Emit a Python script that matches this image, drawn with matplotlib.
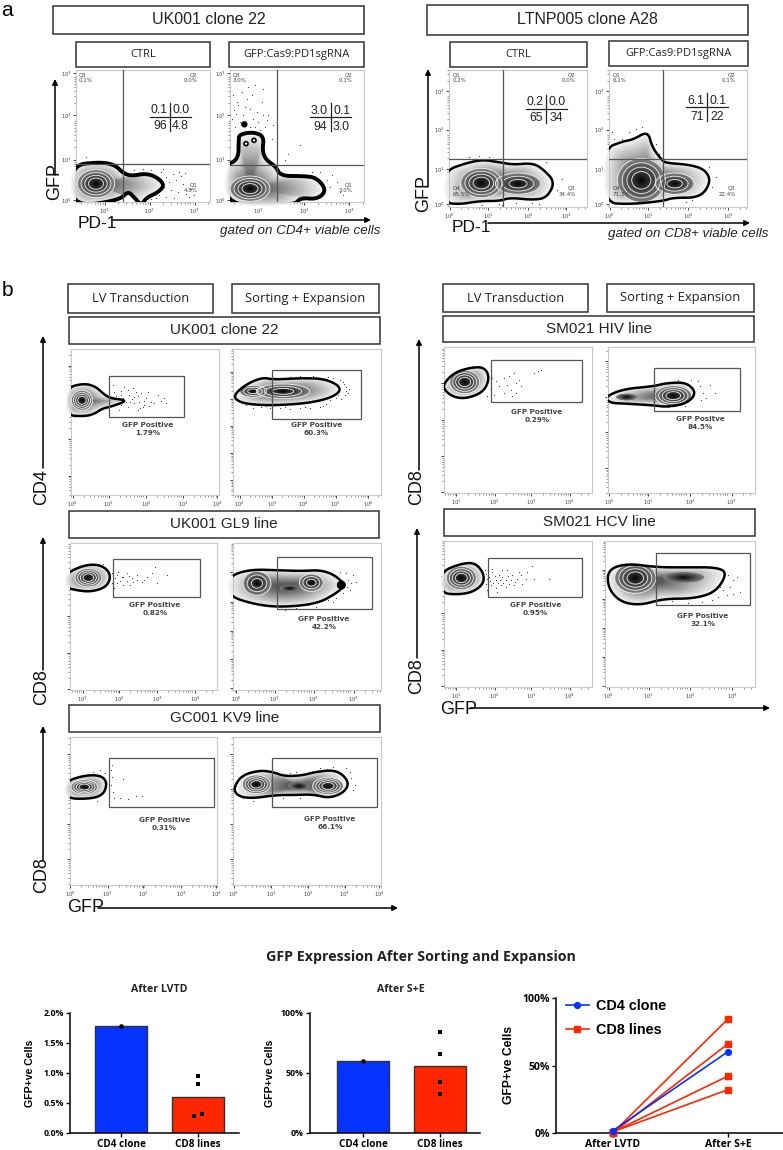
import numpy as np
import matplotlib
matplotlib.use('Agg')
from matplotlib import pyplot as plt
from matplotlib.patches import Rectangle, Polygon, Ellipse, FancyArrowPatch

# fig size is 783x1150 px, layout numbers below are reference pixels
W, H = 783, 1150
SANS = 'Liberation Sans'
SOFT = 'Open Sans'

# --- flow plots, values are display channels (3 channels = 1 px), origin bottom left
a1_outline = [(-15,110),(70,120),(116,112),(141,87),(166,78),(211,86),(245,73),(266,50),(245,28),(211,13),(196,-10),(176,12),(156,33),(131,5),(-15,-15)]
a1_cores = [(60,55,56,42,4)]
a1_dots = [(255,90),(270,75),(290,85),(310,90),(280,60),(300,65),(320,55),(265,45),(285,35),(305,30),(330,25),(250,20),(270,15),(295,12),(340,15),(225,95),(200,100),(175,95),(150,115),(30,135),(250,70),(262,100),(240,12),(225,10),(345,40),(355,22),(315,78),(328,88)]

a2_outline = [(-15,110),(25,127),(26,185),(28,203),(70,210),(102,197),(97,155),(107,127),(137,107),(152,78),(220,78),(260,73),(290,35),(262,8),(210,13),(195,-10),(-15,-15)]
a2_cores = [(60,40,60,38,4)]
a2_dots = [(10,320),(25,290),(40,260),(50,310),(60,280),(70,250),(85,240),(95,300),(30,240),(15,225),(75,225),(105,225),(115,260),(20,300),(35,210),(90,215),(55,345),(75,350),(5,250),(125,190),(165,125),(175,145),(210,170),(130,230),(65,320),(100,340),(300,45),(320,60),(330,30),(340,20),(290,65),(305,80),(245,90),(270,90),(18,265),(45,285),(82,270),(98,262),(12,275),(110,245),(60,225),(35,330)]
a2_spots = [(43,233,7),(48,175,6),(72,185,6)]
a2_holes = [(48,175,6),(72,185,6)]

a3_outline = [(-15,108),(52,132),(102,142),(152,134),(192,127),(252,132),(284,112),(318,75),(294,28),(252,21),(182,28),(152,18),(92,18),(32,8),(-15,13)]
a3_cores = [(97,72,62,44,4),(207,70,68,32,3)]
a3_dots = [(60,150),(90,152),(120,150),(40,143),(250,12),(270,10),(200,12),(160,6),(340,85),(325,50),(290,135),(150,8),(100,6)]

a4_outline = [(-15,175),(42,197),(72,202),(117,228),(129,180),(159,140),(172,132),(242,127),(289,112),(306,75),(274,28),(192,28),(162,18),(62,8),(-15,13)]
a4_cores = [(97,80,72,66,4),(197,70,58,32,3)]
a4_dots = [(60,225),(80,235),(40,205),(15,205),(100,240),(140,190),(150,160),(230,15),(250,20),(310,60),(320,90),(10,225),(300,120)]

b1_outline = [(-15,321),(38,335),(73,326),(98,303),(118,290),(172,284),(123,266),(93,259),(68,242),(38,236),(-15,239)]
b1_cores = [(33,284,32,30,4)]
b1_dots = [(130,310),(150,300),(170,315),(190,295),(210,305),(225,290),(240,280),(260,300),(280,290),(150,270),(170,265),(190,275),(205,280),(220,270),(200,255),(175,300),(160,325),(185,320),(215,265),(250,275),(270,283),(285,275),(140,285),(178,280),(195,310),(230,310),(145,255),(125,330),(135,298),(155,290),(182,288),(200,298),(218,282),(235,268),(128,275),(165,278),(150,312),(208,262)]

b2_outline = [(0,298),(40,333),(90,353),(120,346),(210,351),(280,348),(328,321),(302,294),(230,276),(130,269),(60,271),(18,279)]
b2_cores = [(60,311,40,18,3),(150,311,80,22,3)]
b2_dots = [(330,340),(340,325),(345,305),(335,300),(320,345),(300,352),(315,300),(280,272),(260,265),(230,262),(200,260),(170,258),(140,262),(110,262),(85,265),(60,260),(40,270),(200,358),(170,355),(130,352),(250,355),(290,285),(325,288),(338,312),(348,318),(332,332),(310,290),(270,268),(215,265),(155,264),(100,268),(240,356),(285,354)]

b3_outline = [(-15,348),(40,374),(85,377),(114,360),(122,335),(107,308),(65,295),(25,298),(-15,308)]
b3_cores = [(55,337,40,28,4)]
b3_dots = [(125,350),(140,345),(155,340),(170,350),(185,335),(200,330),(215,325),(230,340),(125,320),(140,320),(160,315),(180,315),(200,345),(222,330),(255,370),(245,350),(135,335),(150,328),(170,328),(190,325),(290,345),(260,322),(100,378),(130,360),(145,355),(132,305),(160,338),(178,342)]

b4_outline = [(-15,340),(50,362),(140,359),(210,357),(260,360),(302,347),(338,315),(307,288),(250,258),(140,248),(60,258),(-15,283)]
b4_cores = [(72,320,42,36,3),(235,322,36,26,3),(170,305,30,10,0)]
b4_dots = [(345,330),(360,345),(350,300),(330,290),(310,275),(300,265),(285,270),(340,350),(370,325),(155,240),(190,245),(250,248),(320,355),(355,320),(342,310)]
b4_spots = [(325,315,11)]

b5_outline = [(-15,310),(43,329),(93,329),(112,307),(100,270),(58,258),(-15,260)]
b5_cores = [(43,294,40,22,4)]
b5_dots = [(125,360),(123,345),(125,325),(158,318),(122,300),(130,280),(132,262),(150,262),(175,258),(198,268),(215,268),(90,345),(105,335),(70,340),(80,252)]

b6_outline = [(0,287),(25,329),(80,344),(120,339),(155,326),(210,329),(245,339),(310,346),(348,312),(337,280),(290,260),(240,272),(185,270),(130,270),(60,260),(18,265)]
b6_cores = [(70,302,42,28,4),(285,297,46,26,4),(198,297,32,12,0)]
b6_dots = [(355,320),(365,300),(350,340),(340,350),(170,335),(190,340),(260,350),(300,355),(30,262),(60,252),(150,262),(200,262),(95,345),(360,285)]

c1_outline = [(0,330),(32,362),(82,377),(122,377),(137,345),(119,303),(67,283),(27,288),(0,310)]
c1_cores = [(62,333,45,35,4)]
c1_dots = [(145,345),(155,335),(180,345),(195,350),(210,360),(225,340),(190,325),(200,310),(215,300),(180,300),(165,320),(140,315),(150,295),(215,330),(230,320),(270,360),(282,365),(290,368),(130,290),(205,290)]

c2_outline = [(-10,288),(46,312),(136,320),(176,330),(236,332),(266,300),(236,268),(176,258),(136,263),(56,268),(6,270)]
c2_cores = [(196,292,55,30,4),(56,288,32,10,0)]
c2_dots = [(275,320),(285,300),(295,285),(305,325),(320,300),(280,280),(270,335),(250,340),(210,338),(180,258),(230,262)]

c3_outline = [(-10,345),(47,369),(92,374),(119,342),(119,310),(87,285),(42,277),(-10,282)]
c3_cores = [(52,327,45,35,4)]
c3_dots = [(125,340),(135,330),(145,345),(155,320),(165,335),(175,350),(185,320),(195,310),(205,335),(220,325),(235,310),(250,345),(265,362),(125,310),(140,305),(155,298),(170,305),(185,300),(210,305),(230,335),(245,325),(270,325),(315,325),(130,290),(160,285),(190,352),(175,330),(200,322),(148,312),(128,325),(138,318),(152,332),(162,312),(178,312),(192,332),(212,315),(133,298),(143,355),(122,350),(168,322),(225,345)]

c4_outline = [(8,352),(66,371),(156,359),(246,359),(336,359),(367,342),(333,285),(266,265),(176,265),(106,245),(46,255),(9,297)]
c4_cores = [(91,327,62,46,4),(236,329,62,16,0)]
c4_dots = [(370,335),(385,320),(395,330),(345,300),(355,290),(365,275),(385,280),(405,285),(340,270),(320,262),(290,255),(250,252),(200,258),(375,300)]

# name, px box, x major ticks, first x exponent, y major ticks, first y exponent, gate, quadrant
gfp_pos = 'GFP Positive'
panels = [
    dict(box=(76,70,210,202), outline=a1_outline, center=(60,55), cores=a1_cores, dots=a1_dots, lw=2.8,
         xt=[86,221,356], xe=1, yt=[5,127,260,387], ye=0, quad=(140,113)),
    dict(box=(230,70,364,202), outline=a2_outline, center=(60,40), cores=a2_cores, dots=a2_dots, spots=a2_spots, holes=a2_holes, lw=2.8,
         xt=[85,222,358], xe=1, yt=[5,127,260,387], ye=0, quad=(141,110)),
    dict(box=(449,70,587,207), outline=a3_outline, center=(150,72), cores=a3_cores, dots=a3_dots,
         xt=[2,117,237,352], xe=0, yt=[8,114,232,347], ye=0, quad=(163,144)),
    dict(box=(609,70,747,207), outline=a4_outline, center=(110,85), cores=a4_cores, dots=a4_dots,
         xt=[2,117,237,357], xe=0, yt=[8,114,232,347], ye=0, quad=(163,144)),
    dict(box=(71,349,219,495), outline=b1_outline, center=(33,284), cores=b1_cores, dots=b1_dots,
         xt=[5,113,226,336,438], xe=0, yt=[58,168,278,388], gate=(113,233,339,357), note=(230,197), pct='1.79%'),
    dict(box=(233,349,381,495), outline=b2_outline, center=(150,311), cores=b2_cores, dots=b2_dots,
         xt=[20,118,212,308,405], xe=2, yt=[44,126,206,288,368], gate=(118,229,385,376), note=(250,197), pct='60.3%'),
    dict(box=(70,543,217,690), outline=b3_outline, center=(55,337), cores=b3_cores, dots=b3_dots,
         xt=[38,148,262,375], xe=1, yt=[2,112,222,332], gate=(128,278,391,394), note=(255,243), pct='0.82%'),
    dict(box=(233,543,381,690), outline=b4_outline, center=(160,310), cores=b4_cores, dots=b4_dots, spots=b4_spots,
         xt=[10,125,242,362], xe=0, yt=[5,92,178,265,355], gate=(132,243,416,399), note=(273,202), pct='42.2%'),
    dict(box=(70,737,217,885), outline=b5_outline, center=(43,294), cores=b5_cores, dots=b5_dots,
         xt=[0,113,220,333,438], xe=0, yt=[77,182,287,392], gate=(116,235,431,380), note=(283,182), pct='0.31%'),
    dict(box=(233,737,381,885), outline=b6_outline, center=(198,297), cores=b6_cores, dots=b6_dots,
         xt=[2,115,225,335,438], xe=0, yt=[77,182,287,392], gate=(118,235,433,380), note=(290,187), pct='66.1%'),
    dict(box=(444,347,592,493), outline=c1_outline, center=(62,333), cores=c1_cores, dots=c1_dots,
         xt=[37,152,262,377], xe=1, yt=[2,110,220,330], gate=(141,274,414,398), note=(279,232), pct='0.29%'),
    dict(box=(608,347,755,493), outline=c2_outline, center=(190,292), cores=c2_cores, dots=c2_dots,
         xt=[4,121,246,371], xe=0, yt=[75,182,288,395], gate=(139,246,395,374), note=(276,210), pct='84.5%', label='GFP Positve'),
    dict(box=(444,541,592,687), outline=c3_outline, center=(52,327), cores=c3_cores, dots=c3_dots,
         xt=[37,152,262,377], xe=1, yt=[2,112,222,332], gate=(133,271,414,386), note=(274,235), pct='0.95%'),
    dict(box=(605,541,755,687), outline=c4_outline, center=(130,320), cores=c4_cores, dots=c4_dots,
         xt=[11,131,256,381], xe=0, yt=[2,90,177,264,352], gate=(152,245,435,401), note=(294,200), pct='32.1%'),
]

# corner labels of the quadrant plots: text, x, y, align
a1_quad = [('Q3\n0.1%',8,373,'left'),('Q2\n0.0%',366,373,'right'),('Q1\n4.8%',366,43,'right')]
a2_quad = [('Q3\n3.0%',8,373,'left'),('Q2\n0.1%',368,373,'right'),('Q1\n3.0%',368,43,'right')]
a3_quad = [('Q1\n0.2%',10,388,'left'),('Q2\n0.0%',380,388,'right'),('Q3\n34.4%',380,48,'right'),('Q4\n65.5%',10,48,'left')]
a4_quad = [('Q1\n6.1%',10,388,'left'),('Q2\n0.1%',380,388,'right'),('Q3\n22.4%',380,48,'right'),('Q4\n71.3%',10,48,'left')]
quad_labels = [a1_quad, a2_quad, a3_quad, a4_quad]

# hand written summary tables: values with centre of cross in channels
a1_table = ['0.1','0.0','96','4.8']
a2_table = ['3.0','0.1','94','3.0']
a3_table = ['0.2','0.0','65','34']
a4_table = ['6.1','0.1','71','22']
tables = [a1_table, a2_table, a3_table, a4_table]
table_cross = [(283,256),(302,254),(292,295),(294,299)]

# --- summary charts
groups = ['CD4 clone', 'CD8 lines']
lvtd_cd4 = [1.79]
lvtd_cd8 = [0.95, 0.82, 0.31, 0.29]
lvtd_bars = [1.79, 0.6]
lvtd_jitter = [0.0, 0.0, 0.045, -0.05]
se_cd4 = [60.3]
se_cd8 = [84.5, 66.1, 42.2, 32.1]
se_bars = [60.3, 56.2]
stages = ['After LVTD', 'After S+E']
cd4_pair = [1.79, 60.3]
cd8_pairs = [[0.29, 84.5], [0.31, 66.1], [0.82, 42.2], [0.95, 32.1]]

BLUE = '#0433FF'
RED = '#FF2600'

fig = plt.figure(figsize=(W/100, H/100), dpi=100)
fig.patch.set_facecolor('white')


def px_axes(x0, y0, x1, y1):
    return fig.add_axes([x0/W, 1-y1/H, (x1-x0)/W, (y1-y0)/H])


def smooth(pts, n=3):
    p = np.array(pts, dtype=float)
    for i in range(n):
        q = np.roll(p, -1, axis=0)
        p = np.column_stack([0.75*p+0.25*q, 0.25*p+0.75*q]).reshape(-1, 2)
    return p


def blob(ax, outline, center, cores, lw):
    p = smooth(outline)
    c = np.array(center, dtype=float)
    clip = Polygon(p, closed=True, transform=ax.transData, fc='none', ec='none')
    ax.add_patch(clip)
    for t, g in zip(np.linspace(1, 0.2, 16), np.linspace(0.95, 0.35, 16)):
        ax.add_patch(Polygon(c+t*(p-c), closed=True, fc=str(g), ec='none', zorder=2, clip_path=clip))
    for cx, cy, rx, ry, rings in cores:
        for t, g in zip(np.linspace(1, 0.08, 16), np.linspace(0.5, 0.04, 16)):
            e = Ellipse((cx, cy), 2*rx*t, 2*ry*t, fc=str(g), ec='none', zorder=3)
            ax.add_patch(e)
            e.set_clip_path(clip)
        for t in np.linspace(1, 0.4, rings) if rings else []:
            e = Ellipse((cx, cy), 2*rx*t, 2*ry*t, fc='none', ec='#f2f2f2', lw=0.6, zorder=4)
            ax.add_patch(e)
            e.set_clip_path(clip)
    ax.add_patch(Polygon(p, closed=True, fc='none', ec='black', lw=lw, zorder=5, joinstyle='round'))


def log_minor(major, lo, hi):
    d = major[1]-major[0]
    out = []
    for m in [major[0]-d]+list(major):
        for k in range(2, 10):
            v = m+d*np.log10(k)
            if lo <= v <= hi:
                out.append(v)
    return out


def flow_panel(cfg):
    x0, y0, x1, y1 = cfg['box']
    ax = px_axes(x0, y0, x1, y1)
    wch, hch = 3*(x1-x0), 3*(y1-y0)
    ax.set_xlim(0, wch)
    ax.set_ylim(0, hch)
    for s in ax.spines.values():
        s.set_color('#c8c8c8')
        s.set_linewidth(0.8)
    ax.set_xticks(cfg['xt'])
    ax.set_xticklabels(['$10^{%d}$' % (cfg['xe']+i) for i in range(len(cfg['xt']))], fontsize=3.8, color='#444444')
    ax.set_xticks(log_minor(cfg['xt'], 0, wch), minor=True)
    ax.set_yticks(cfg['yt'])
    if 'ye' in cfg:
        ax.set_yticklabels(['$10^{%d}$' % (cfg['ye']+i) for i in range(len(cfg['yt']))], fontsize=3.8, color='#444444')
    else:
        ax.set_yticklabels([])
    ax.set_yticks(log_minor(cfg['yt'], 0, hch), minor=True)
    ax.tick_params(which='major', length=2.2, width=0.6, pad=1.0, color='#222222')
    ax.tick_params(which='minor', length=1.1, width=0.4, color='#444444')
    blob(ax, cfg['outline'], cfg['center'], cfg['cores'], cfg.get('lw', 1.8))
    d = np.array(cfg['dots'])
    ax.scatter(d[:, 0], d[:, 1], s=0.7, c='#333333', lw=0, zorder=1)
    for sx, sy, r in cfg.get('spots', []):
        col = 'white' if (sx, sy, r) in cfg.get('holes', []) else 'black'
        ax.add_patch(Ellipse((sx, sy), 2*r, 2*r, fc=col, ec='black', lw=1.2, zorder=6))
    if 'quad' in cfg:
        ax.axvline(cfg['quad'][0], color='#555555', lw=0.9, zorder=7)
        ax.axhline(cfg['quad'][1], color='#555555', lw=0.9, zorder=7)
    if 'gate' in cfg:
        gx0, gy0, gx1, gy1 = cfg['gate']
        ax.add_patch(Rectangle((gx0, gy0), gx1-gx0, gy1-gy0, fc='none', ec='#555555', lw=0.9, zorder=7))
        ax.text(cfg['note'][0], cfg['note'][1], cfg.get('label', gfp_pos)+'\n'+cfg['pct'], ha='center', va='center',
                fontsize=5.2, fontweight='bold', color='#444444', family='DejaVu Sans', linespacing=1.35)
    return ax


flow_axes = [flow_panel(c) for c in panels]

for ax, labels in zip(flow_axes[:4], quad_labels):
    for txt, x, y, ha in labels:
        ax.text(x, y, txt, fontsize=4, ha=ha, va='center', color='#444444', zorder=8, linespacing=1.3)

for ax, vals, (cx, cy) in zip(flow_axes[:4], tables, table_cross):
    ax.plot([cx-62, cx+62], [cy, cy], color='#222222', lw=0.9, zorder=8)
    ax.plot([cx, cx], [cy-42, cy+42], color='#222222', lw=0.9, zorder=8)
    for txt, dx, dy in zip(vals, [-34, 33, -30, 30], [19, 19, -28, -28]):
        ax.text(cx+dx, cy+dy, txt, fontsize=8.8, ha='center', va='center', family=SANS, color='#222222', zorder=8)

# overlay for boxes, arrows and axis names, in reference pixels
over = fig.add_axes([0, 0, 1, 1], zorder=20)
over.set_xlim(0, W)
over.set_ylim(H, 0)
over.axis('off')


def label_box(x0, y0, x1, y1, txt, size, family=SANS):
    over.add_patch(Rectangle((x0, y0), x1-x0, y1-y0, fc='white', ec='#333333', lw=1.1))
    over.text((x0+x1)/2, (y0+y1)/2, txt, ha='center', va='center', fontsize=size, family=family, color='#222222')


def arrow(x0, y0, x1, y1):
    over.add_patch(FancyArrowPatch((x0, y0), (x1, y1), arrowstyle='-|>', color='black', lw=1.1,
                                   shrinkA=0, shrinkB=0, mutation_scale=8))


def axis_name(x, y, txt, rot=0, size=13):
    over.text(x, y, txt, rotation=rot, ha='center', va='center', fontsize=size, family=SANS, color='#111111')


label_box(53, 6, 364, 34, 'UK001 clone 22', 11.5)
label_box(76, 42, 210, 67, 'CTRL', 8, SOFT)
label_box(229, 42, 364, 67, 'GFP:Cas9:PD1sgRNA', 8, SOFT)
label_box(427, 5, 748, 35, 'LTNP005 clone A28', 11.5)
label_box(450, 42, 587, 67, 'CTRL', 8, SOFT)
label_box(609, 41, 748, 66, 'GFP:Cas9:PD1sgRNA', 8, SOFT)

label_box(68, 284, 213, 313, 'LV Transduction', 9.3, SOFT)
label_box(232, 284, 379, 313, 'Sorting + Expansion', 9.4, SOFT)
label_box(69, 317, 380, 344, 'UK001 clone 22', 11)
label_box(69, 511, 379, 538, 'UK001 GL9 line', 11)
label_box(69, 705, 380, 732, 'GC001 KV9 line', 11)
label_box(443, 284, 588, 312, 'LV Transduction', 9.3, SOFT)
label_box(607, 284, 754, 312, 'Sorting + Expansion', 9.4, SOFT)
label_box(443, 316, 754, 342, 'SM021 HIV line', 11)
label_box(444, 509, 755, 536, 'SM021 HCV line', 11)

over.text(7, 10, 'a', fontsize=15, ha='center', va='center', family=SANS)
over.text(7, 290, 'b', fontsize=15, ha='center', va='center', family=SANS)

arrow(55, 175, 55, 79)
axis_name(55, 182, 'GFP', 90)
axis_name(97, 223, 'PD-1', size=12.5)
arrow(113, 220, 371, 220)
over.text(380, 231, 'gated on CD4+ viable cells', ha='right', va='center', fontsize=9.6, style='italic', family=SANS, color='#222222')
arrow(428, 187, 428, 69)
axis_name(424, 193, 'GFP', 90)
axis_name(471, 228, 'PD-1', size=12.5)
arrow(488, 223, 750, 223)
over.text(769, 234, 'gated on CD8+ viable cells', ha='right', va='center', fontsize=9.6, style='italic', family=SANS, color='#222222')

arrow(43, 468, 43, 336)
axis_name(42, 487, 'CD4', 90)
arrow(43, 670, 43, 537)
axis_name(42, 687, 'CD8', 90)
arrow(43, 860, 43, 726)
axis_name(42, 875, 'CD8', 90)
axis_name(86, 908, 'GFP')
arrow(98, 908, 398, 908)
arrow(419, 470, 419, 339)
axis_name(417, 487, 'CD8', 90)
arrow(417, 658, 417, 528)
axis_name(417, 676, 'CD8', 90)
axis_name(459, 709, 'GFP')
arrow(470, 708, 770, 708)

over.text(421, 957, 'GFP Expression After Sorting and Expansion', ha='center', va='center', fontsize=10.3, fontweight='bold', family=SOFT, color='#222222')
over.text(159, 990, 'After LVTD', ha='center', va='center', fontsize=7.6, fontweight='bold', family=SOFT, color='#222222')
over.text(401, 990, 'After S+E', ha='center', va='center', fontsize=7.6, fontweight='bold', family=SOFT, color='#222222')


def style_summary(ax, size, xsize, label_x, label_size=7.6):
    ax.spines['top'].set_visible(False)
    ax.spines['right'].set_visible(False)
    ax.spines['left'].set_linewidth(1.1)
    ax.spines['bottom'].set_linewidth(1.1)
    ax.tick_params(length=3, width=1, pad=1.5)
    for t in ax.get_yticklabels():
        t.set_fontsize(size)
        t.set_fontweight('bold')
        t.set_family(SOFT)
    for t in ax.get_xticklabels():
        t.set_fontsize(xsize)
        t.set_fontweight('bold')
        t.set_family(SOFT)
    ax.set_ylabel('GFP+ve Cells', fontsize=label_size, fontweight='bold', family=SANS)
    ax.yaxis.set_label_coords(label_x, 0.5)


bar1 = px_axes(70, 1013, 239, 1133)
bar1.bar([0, 1], lvtd_bars, width=0.675, color=[BLUE, RED], edgecolor='#333333', lw=1)
bar1.scatter([0]*len(lvtd_cd4), lvtd_cd4, s=11, c='black', marker='o', lw=0, zorder=3)
bar1.scatter(np.full(4, 1.0)+np.array(lvtd_jitter), lvtd_cd8, s=12, c='black', marker='s', lw=0, zorder=3)
bar1.set_xlim(-0.662, 1.53)
bar1.set_ylim(0, 2)
bar1.set_yticks([0, 0.5, 1, 1.5, 2])
bar1.set_yticklabels(['0.0%', '0.5%', '1.0%', '1.5%', '2.0%'])
bar1.set_xticks([0, 1])
bar1.set_xticklabels(groups)
style_summary(bar1, 6.3, 7.2, -0.21)

bar2 = px_axes(310, 1013, 480, 1133)
bar2.bar([0, 1], se_bars, width=0.675, color=[BLUE, RED], edgecolor='#333333', lw=1)
bar2.scatter([0]*len(se_cd4), se_cd4, s=11, c='black', marker='o', lw=0, zorder=3)
bar2.scatter([1]*len(se_cd8), se_cd8, s=12, c='black', marker='s', lw=0, zorder=3)
bar2.set_xlim(-0.688, 1.52)
bar2.set_ylim(0, 100)
bar2.set_yticks([0, 50, 100])
bar2.set_yticklabels(['0%', '50%', '100%'])
bar2.set_xticks([0, 1])
bar2.set_xticklabels(groups)
style_summary(bar2, 6.3, 7.2, -0.205)

line = px_axes(556, 998, 783, 1133)
for i, pair in enumerate(cd8_pairs):
    line.plot([0, 1], pair, color=RED, lw=1.2, marker='s', ms=4.2, clip_on=False, zorder=3, label='CD8 lines' if i == 0 else None)
line.plot([0, 1], cd4_pair, color=BLUE, lw=1.2, marker='o', ms=4.2, clip_on=False, zorder=4, label='CD4 clone')
line.set_xlim(-0.496, 1.478)
line.set_ylim(0, 100)
line.set_yticks([0, 50, 100])
line.set_yticklabels(['0%', '50%', '100%'])
line.set_xticks([0, 1])
line.set_xticklabels(stages)
style_summary(line, 7.5, 7.5, -0.18, 8.7)
h, l = line.get_legend_handles_labels()
line.legend(h[::-1], l[::-1], loc='upper left', bbox_to_anchor=(-0.015, 1.09), frameon=False, handlelength=1.6,
            labelspacing=0.73, handletextpad=0.5, prop={'family': SANS, 'weight': 'bold', 'size': 10.4})

plt.savefig('out.png', dpi=100)
